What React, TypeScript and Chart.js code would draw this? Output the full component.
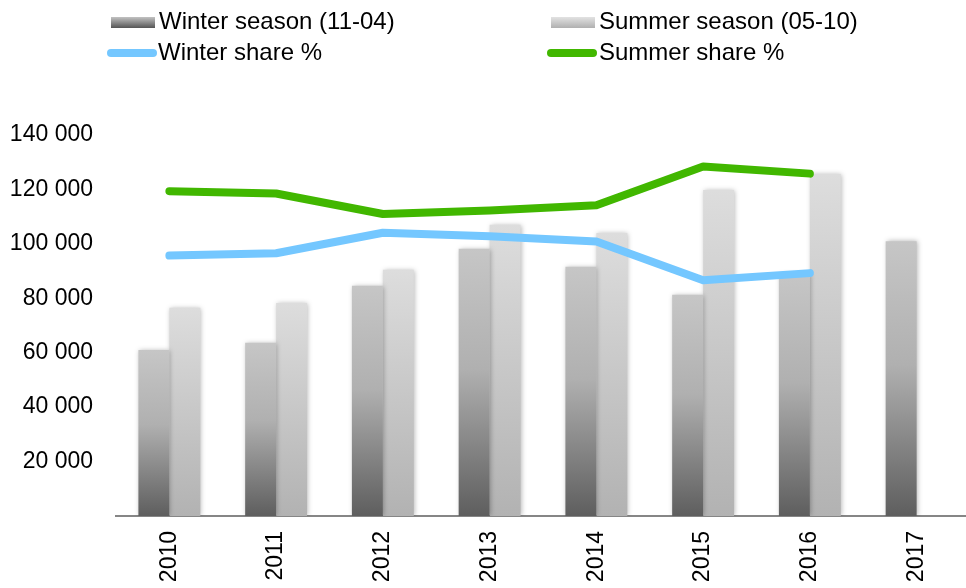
import React, { useEffect, useRef } from "react";
import { Chart, registerables } from "chart.js";

Chart.register(...registerables);

const years = ["2010", "2011", "2012", "2013", "2014", "2015", "2016", "2017"];
const winterSeason = [61000, 63700, 84600, 98200, 91600, 81300, 89000, 101000];
const summerSeason = [76500, 78300, 90500, 107000, 104000, 119800, 125700, null];
const winterShare = [44.5, 44.9, 48.4, 47.8, 46.9, 40.3, 41.5, null];
const summerShare = [55.5, 55.1, 51.6, 52.2, 53.1, 59.7, 58.5, null];
const legendLabels = ["Winter season (11-04)", "Summer season (05-10)", "Winter share %", "Summer share %"];

const FONT = "'Liberation Sans', Arial, sans-serif";
const BLUE = "#74c7ff";
const GREEN = "#41b700";

function barGradient(stops: [number, string][], fallback: string) {
  return (c: any) => {
    const chart = c.chart;
    const { ctx, chartArea, scales } = chart;
    if (!chartArea || c.type !== "data") return fallback;
    const v = c.raw;
    if (v == null) return fallback;
    const top = scales.y.getPixelForValue(v);
    const base = scales.y.getPixelForValue(0);
    if (!isFinite(top) || !isFinite(base) || top === base) return fallback;
    const g = ctx.createLinearGradient(0, top, 0, base);
    stops.forEach(([o, col]) => g.addColorStop(o, col));
    return g;
  };
}

const shadowPlugin = {
  id: "barShadow",
  beforeDatasetDraw(chart: any, args: any) {
    const ds = chart.data.datasets[args.index];
    if (ds.type === "bar" || !ds.type) {
      const ctx = chart.ctx;
      ctx.save();
      ctx.shadowColor = "rgba(0,0,0,0.3)";
      ctx.shadowBlur = 5;
      ctx.shadowOffsetX = 1;
      ctx.shadowOffsetY = 0;
    }
  },
  afterDatasetDraw(chart: any, args: any) {
    const ds = chart.data.datasets[args.index];
    if (ds.type === "bar" || !ds.type) {
      chart.ctx.restore();
    }
  },
};

const legendPlugin = {
  id: "customLegend",
  afterDraw(chart: any) {
    const ctx = chart.ctx;
    ctx.save();
    let g = ctx.createLinearGradient(0, 17, 0, 28);
    g.addColorStop(0, "#c2c2c2");
    g.addColorStop(1, "#555555");
    ctx.fillStyle = g;
    ctx.fillRect(111, 17, 44, 11);
    g = ctx.createLinearGradient(0, 17, 0, 28);
    g.addColorStop(0, "#e2e2e2");
    g.addColorStop(1, "#b0b0b0");
    ctx.fillStyle = g;
    ctx.fillRect(551, 17, 44, 11);
    ctx.lineCap = "round";
    ctx.lineWidth = 8;
    ctx.strokeStyle = BLUE;
    ctx.beginPath();
    ctx.moveTo(111, 53);
    ctx.lineTo(153, 53);
    ctx.stroke();
    ctx.strokeStyle = GREEN;
    ctx.beginPath();
    ctx.moveTo(551, 53);
    ctx.lineTo(593, 53);
    ctx.stroke();
    ctx.fillStyle = "#000";
    ctx.font = `24px ${FONT}`;
    ctx.textBaseline = "middle";
    ctx.textAlign = "left";
    ctx.fillText(legendLabels[0], 159, 22);
    ctx.fillText(legendLabels[1], 599, 22);
    ctx.fillText(legendLabels[2], 158, 53);
    ctx.fillText(legendLabels[3], 599, 53);
    ctx.restore();
  },
};

export default function App() {
  const ref = useRef<HTMLCanvasElement | null>(null);
  useEffect(() => {
    if (!ref.current) return;
    const chart = new Chart(ref.current, {
      type: "bar",
      data: {
        labels: years,
        datasets: [
          {
            type: "bar",
            label: legendLabels[0],
            data: winterSeason,
            yAxisID: "y",
            backgroundColor: barGradient(
              [
                [0, "#c6c6c6"],
                [0.45, "#b0b0b0"],
                [1, "#5e5e5e"],
              ],
              "#999"
            ),
            borderWidth: 0,
            categoryPercentage: 0.58,
            barPercentage: 1,
            order: 1,
          },
          {
            type: "bar",
            label: legendLabels[1],
            data: summerSeason,
            yAxisID: "y",
            backgroundColor: barGradient(
              [
                [0, "#dddddd"],
                [1, "#b2b2b2"],
              ],
              "#ccc"
            ),
            borderWidth: 0,
            categoryPercentage: 0.58,
            barPercentage: 1,
            order: 1,
          },
          {
            type: "line",
            label: legendLabels[2],
            data: winterShare,
            yAxisID: "y1",
            borderColor: BLUE,
            backgroundColor: BLUE,
            borderWidth: 8,
            pointRadius: 0,
            borderCapStyle: "round",
            borderJoinStyle: "round",
            tension: 0,
            order: 0,
          },
          {
            type: "line",
            label: legendLabels[3],
            data: summerShare,
            yAxisID: "y1",
            borderColor: GREEN,
            backgroundColor: GREEN,
            borderWidth: 8,
            pointRadius: 0,
            borderCapStyle: "round",
            borderJoinStyle: "round",
            tension: 0,
            order: 0,
          },
        ],
      } as any,
      options: {
        animation: false,
        responsive: false,
        events: [],
        layout: { padding: { left: 10, top: 135, right: 0, bottom: 0 } },
        plugins: {
          legend: { display: false },
          tooltip: { enabled: false },
        },
        scales: {
          x: {
            grid: { display: false, drawTicks: false },
            border: { display: true, color: "#868686", width: 2 },
            ticks: {
              color: "#000",
              font: { family: FONT, size: 23 },
              minRotation: 90,
              maxRotation: 90,
              padding: 15,
              autoSkip: false,
            },
            afterFit: (s: any) => {
              s.height = 72;
            },
          },
          y: {
            min: 0,
            max: 140000,
            grid: { display: false, drawTicks: false },
            border: { display: false },
            ticks: {
              stepSize: 20000,
              color: "#000",
              font: { family: FONT, size: 23 },
              padding: 23,
              callback: (v: any) =>
                v === 0 ? "" : String(v).replace(/\B(?=(\d{3})+(?!\d))/g, " "),
            },
            afterFit: (s: any) => {
              s.width = 106;
            },
          },
          y1: {
            display: false,
            min: 0,
            max: 65.1,
          },
        },
      } as any,
      plugins: [shadowPlugin, legendPlugin],
    });
    return () => chart.destroy();
  }, []);
  return (
    <div
      style={{
        position: "fixed",
        left: 0,
        top: 0,
        width: 966,
        height: 588,
        overflow: "hidden",
        background: "#fff",
      }}
    >
      <canvas ref={ref} width={970} height={588} style={{ width: 970, height: 588, display: "block" }} />
    </div>
  );
}
